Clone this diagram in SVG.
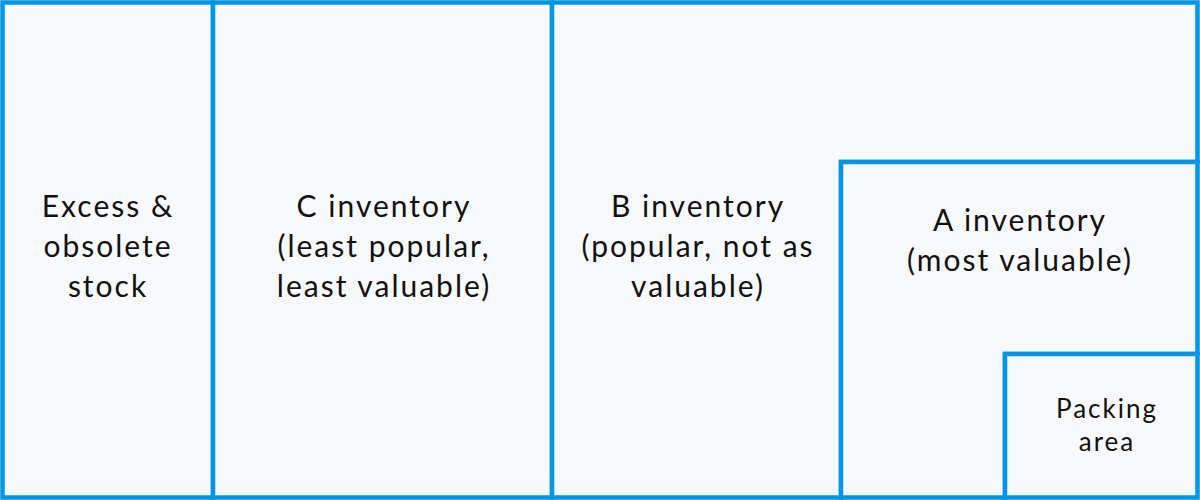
<svg xmlns="http://www.w3.org/2000/svg" width="1200" height="500" viewBox="0 0 1200 500">
<style>
.box{fill:#f8f9fb;stroke:#0096e6;stroke-width:4.5}
.t{font-family:Lato,"Noto Sans",sans-serif;font-size:30px;letter-spacing:2px;fill:#111;text-anchor:middle}
.s{font-size:26px;letter-spacing:2px}
</style>
<rect x="0" y="0" width="1200" height="500" fill="#f8f9fb"/>
<g id="excess">
<rect class="box" x="2.5" y="2.5" width="210.5" height="495"/>
<text class="t" x="108" y="217">Excess &amp;</text>
<text class="t" x="108" y="257">obsolete</text>
<text class="t" x="108" y="297">stock</text>
</g>
<g id="c-inventory">
<rect class="box" x="213" y="2.5" width="339" height="495"/>
<text class="t" x="384" y="217">C inventory</text>
<text class="t" x="384" y="257">(least popular,</text>
<text class="t" x="384" y="297">least valuable)</text>
</g>
<g id="b-inventory">
<path class="box" d="M552,2.5 H1197.5 V162 H841 V497.5 H552 Z"/>
<text class="t" x="698" y="217">B inventory</text>
<text class="t" x="698" y="257">(popular, not as</text>
<text class="t" x="698" y="297">valuable)</text>
</g>
<g id="a-inventory">
<path class="box" d="M841,162 H1197.5 V354 H1005 V497.5 H841 Z"/>
<text class="t" x="1020" y="231">A inventory</text>
<text class="t" x="1020" y="271">(most valuable)</text>
</g>
<g id="packing">
<rect class="box" x="1005" y="354" width="192.5" height="143.5"/>
<text class="t s" x="1107" y="418">Packing</text>
<text class="t s" x="1107" y="451">area</text>
</g>
<g id="connectors"></g>
</svg>
